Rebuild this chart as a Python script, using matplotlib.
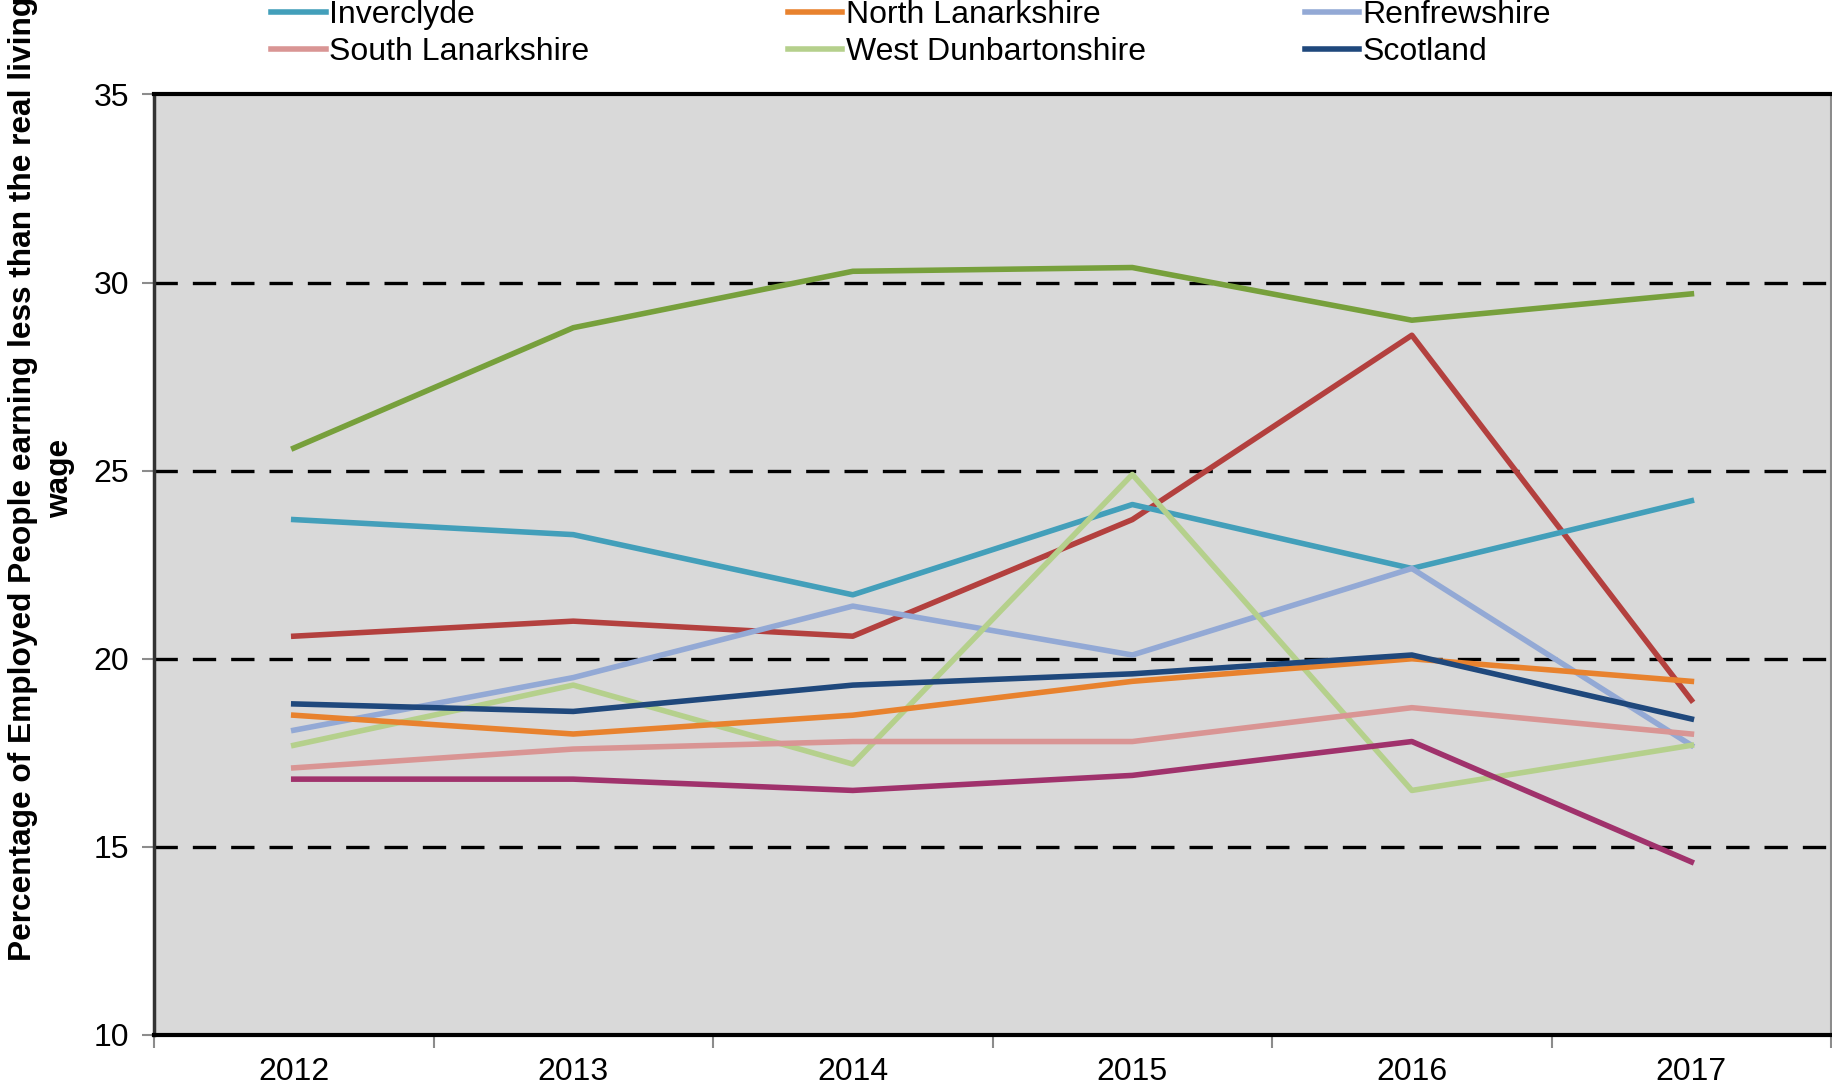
import matplotlib.pyplot as plt
from matplotlib.ticker import FixedLocator, NullFormatter

plt.rcParams['font.family'] = ['Liberation Sans', 'DejaVu Sans']

# Data
years = ['2012', '2013', '2014', '2015', '2016', '2017']

inverclyde = [23.7, 23.3, 21.7, 24.1, 22.4, 24.2]
north_lanarkshire = [18.5, 18.0, 18.5, 19.4, 20.0, 19.4]
renfrewshire = [18.1, 19.5, 21.4, 20.1, 22.4, 17.7]
south_lanarkshire = [17.1, 17.6, 17.8, 17.8, 18.7, 18.0]
west_dunbartonshire = [17.7, 19.3, 17.2, 24.9, 16.5, 17.7]
scotland = [18.8, 18.6, 19.3, 19.6, 20.1, 18.4]
# series whose legend entries are cut off in the original
green_series = [25.6, 28.8, 30.3, 30.4, 29.0, 29.7]
red_series = [20.6, 21.0, 20.6, 23.7, 28.6, 18.9]
purple_series = [16.8, 16.8, 16.5, 16.9, 17.8, 14.6]

fig = plt.figure(figsize=(18.33, 10.86), dpi=100)
ax = fig.add_axes([0.084, 0.047, 0.915, 0.866])
ax.set_facecolor('#D9D9D9')

x = range(len(years))
lw = 4
ax.plot(x, green_series, color='#77A03C', lw=lw)
ax.plot(x, red_series, color='#B3403E', lw=lw)
l_inv, = ax.plot(x, inverclyde, color='#439FBA', lw=lw, label='Inverclyde')
l_ren, = ax.plot(x, renfrewshire, color='#93A9D5', lw=lw, label='Renfrewshire')
l_wd, = ax.plot(x, west_dunbartonshire, color='#B5D08C', lw=lw, label='West Dunbartonshire')
l_sl, = ax.plot(x, south_lanarkshire, color='#D99594', lw=lw, label='South Lanarkshire')
l_nl, = ax.plot(x, north_lanarkshire, color='#E8822E', lw=lw, label='North Lanarkshire')
ax.plot(x, purple_series, color='#A0326C', lw=lw)
l_sc, = ax.plot(x, scotland, color='#1F487C', lw=lw, label='Scotland')

ax.set_xlim(-0.5, len(years) - 0.5)
ax.set_ylim(10, 35)
ax.set_yticks([10, 15, 20, 25, 30, 35])
for yv in [15, 20, 25, 30]:
    ax.axhline(yv, color='black', lw=2.4, ls=(0, (7, 4.5)), zorder=1)

ax.xaxis.set_major_locator(FixedLocator([i - 0.5 for i in range(len(years) + 1)]))
ax.xaxis.set_major_formatter(NullFormatter())
ax.set_xticks(list(x), minor=True)
ax.set_xticklabels(years, minor=True)
ax.tick_params(axis='x', which='major', length=9, width=1.5, color='#8C8C8C')
ax.tick_params(axis='x', which='minor', length=0, labelsize=23, pad=16)
ax.tick_params(axis='y', length=9, width=1.5, color='#8C8C8C', labelsize=23, pad=9)

for s in ['top', 'bottom']:
    ax.spines[s].set_linewidth(3)
    ax.spines[s].set_color('black')
ax.spines['left'].set_linewidth(2.5)
ax.spines['left'].set_color('#333333')
ax.spines['right'].set_linewidth(1.5)
ax.spines['right'].set_color('#8C8C8C')

fig.text(0.0225, 0.559,
         'Percentage of Employed People earning less than the real living\nwage',
         rotation=90, ha='center', va='center', multialignment='center',
         fontsize=22.8, fontweight='bold', linespacing=1.3)

# legend, three columns of two rows
cols = [([l_inv, l_sl], 0.148), ([l_nl, l_wd], 0.430), ([l_ren, l_sc], 0.712)]
for handles, xpos in cols:
    fig.legend(handles=handles, loc='center left', bbox_to_anchor=(xpos, 0.969),
               frameon=False, fontsize=23, handlelength=1.7, handletextpad=0.1,
               labelspacing=0.2, borderpad=0, borderaxespad=0)

fig.savefig('out.png', dpi=100)
